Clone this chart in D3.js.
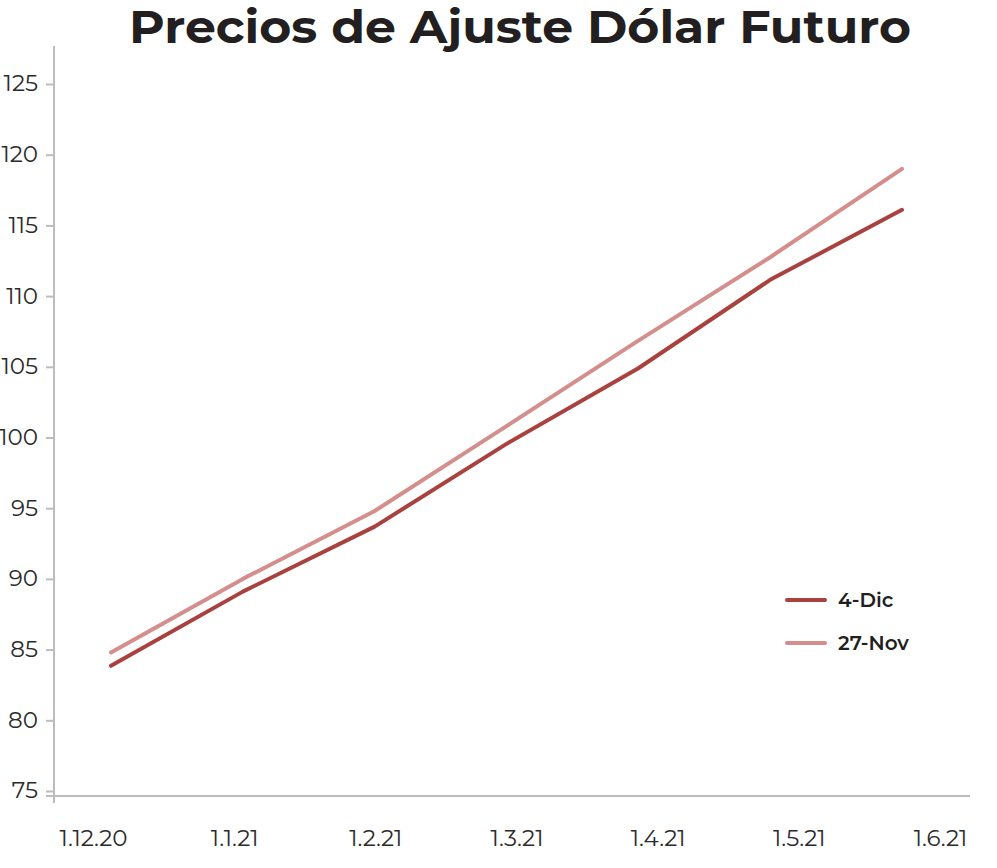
<!DOCTYPE html>
<html>
<head>
<meta charset="utf-8">
<script src="https://cdn.jsdelivr.net/npm/d3@7"></script>
<style>
  html, body { margin: 0; padding: 0; background: #fff; }
  svg { display: block; }
</style>
</head>
<body>
<svg id="chart" width="997" height="868"></svg>
<script>
const title = "Precios de Ajuste Dólar Futuro";
const categories = ["1.12.20", "1.1.21", "1.2.21", "1.3.21", "1.4.21", "1.5.21", "1.6.21"];
const seriesNames = ["4-Dic", "27-Nov"];
const dic4 = [83.85, 89.1, 93.7, 99.55, 104.9, 111.15, 116.1];
const nov27 = [84.8, 90.0, 94.8, 100.8, 106.85, 112.75, 119.0];
const yTicks = [75, 80, 85, 90, 95, 100, 105, 110, 115, 120, 125];
const colors = ["#a9423f", "#d48e8c"];

const svg = d3.select("#chart");
const font = "Montserrat, 'Noto Sans', sans-serif";

const y = d3.scaleLinear().domain([75, 125]).range([791, 84]);
const xData = d3.scalePoint().domain(categories).range([111, 902]);
const xLabel = d3.scalePoint().domain(categories).range([93, 940]);

// Title
svg.append("text")
  .attr("x", 520).attr("y", 43)
  .attr("text-anchor", "middle")
  .attr("font-family", font)
  .attr("font-weight", 700)
  .attr("font-size", 45)
  .attr("fill", "#231f20")
  .attr("textLength", 782)
  .attr("lengthAdjust", "spacingAndGlyphs")
  .text(title);

// Y axis
const yAxis = d3.axisLeft(y).tickValues(yTicks).tickSize(8).tickPadding(8).tickFormat(d3.format("d"));
const gy = svg.append("g").attr("transform", "translate(54,0)").call(yAxis);
gy.select(".domain").remove();
gy.selectAll(".tick line").attr("stroke", "#bdbdbd").attr("stroke-width", 2);
gy.selectAll(".tick text")
  .attr("font-family", font).attr("font-size", 23).attr("fill", "#2b2b2b")
  .attr("dy", "0.3em");
svg.append("line").attr("x1", 54).attr("x2", 54).attr("y1", 46).attr("y2", 803)
  .attr("stroke", "#bdbdbd").attr("stroke-width", 2);

// X axis
svg.append("line").attr("x1", 46).attr("x2", 970).attr("y1", 796).attr("y2", 796)
  .attr("stroke", "#bdbdbd").attr("stroke-width", 2);
const xAxis = d3.axisBottom(xLabel).tickSize(0).tickPadding(0);
const gx = svg.append("g").attr("transform", "translate(0,846)").call(xAxis);
gx.select(".domain").remove();
gx.selectAll(".tick text")
  .attr("font-family", font).attr("font-size", 23).attr("fill", "#2b2b2b")
  .attr("dy", 0).attr("y", 0);

// Lines
const line = d3.line().x((d, i) => xData(categories[i])).y(d => y(d));
[nov27, dic4].forEach((s, k) => {
  const c = k === 0 ? colors[1] : colors[0];
  svg.append("path").datum(s)
    .attr("d", line)
    .attr("fill", "none")
    .attr("stroke", c)
    .attr("stroke-width", 4)
    .attr("stroke-linecap", "round")
    .attr("stroke-linejoin", "round");
});

// Legend
const legend = svg.append("g");
seriesNames.forEach((name, i) => {
  const ly = 600 + i * 43;
  legend.append("line").attr("x1", 787).attr("x2", 825).attr("y1", ly).attr("y2", ly)
    .attr("stroke", colors[i]).attr("stroke-width", 4).attr("stroke-linecap", "round");
  legend.append("text").attr("x", 838).attr("y", ly + 7)
    .attr("font-family", font).attr("font-weight", 600).attr("font-size", 20)
    .attr("fill", "#231f20").text(name);
});
</script>
</body>
</html>
